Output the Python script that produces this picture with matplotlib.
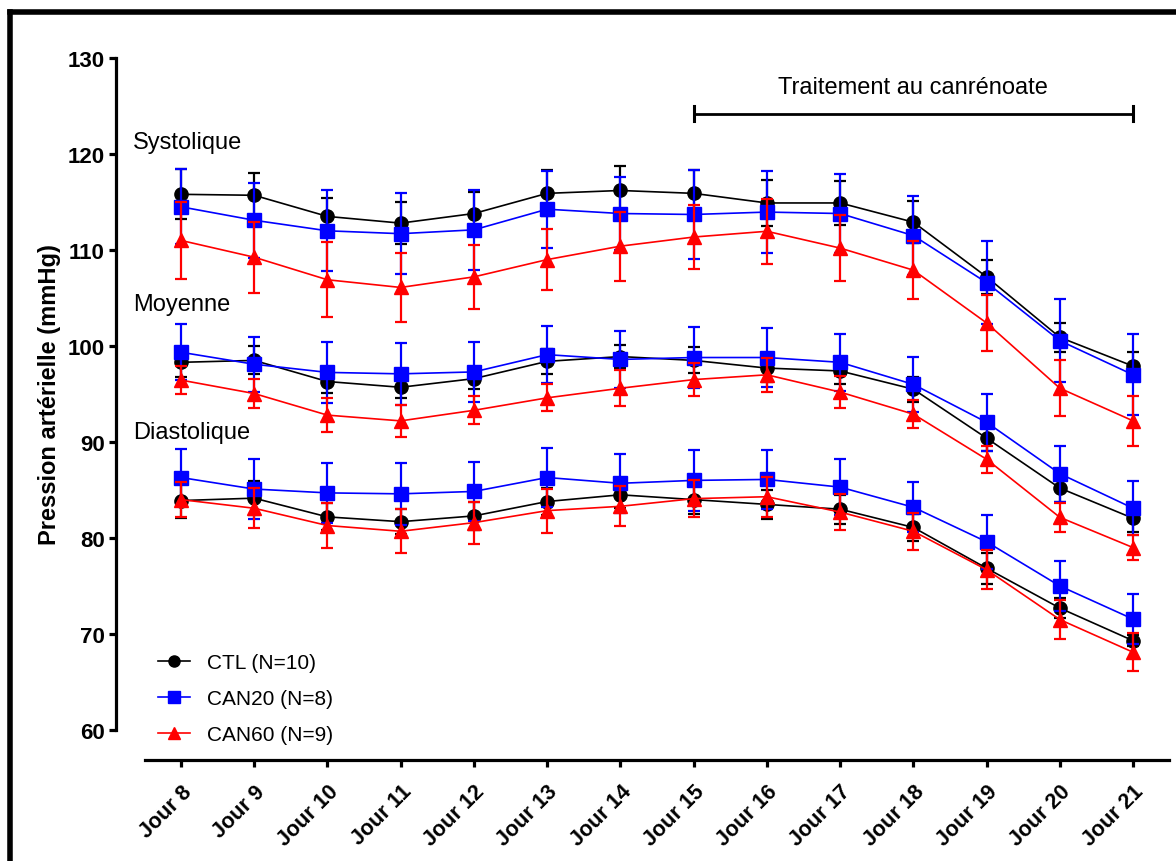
import matplotlib
matplotlib.use("Agg")
import matplotlib.pyplot as plt
from matplotlib.lines import Line2D
import numpy as np

plt.rcParams['font.family'] = ['Liberation Sans', 'DejaVu Sans']

days = ["Jour 8", "Jour 9", "Jour 10", "Jour 11", "Jour 12", "Jour 13", "Jour 14",
        "Jour 15", "Jour 16", "Jour 17", "Jour 18", "Jour 19", "Jour 20", "Jour 21"]

# Systolique
sys_ctl = [115.8, 115.7, 113.5, 112.8, 113.8, 115.9, 116.2, 115.9, 114.9, 114.9, 112.9, 107.2, 100.9, 97.9]
sys_ctl_sem = [2.6, 2.3, 1.9, 2.2, 2.25, 2.4, 2.5, 2.4, 2.35, 2.3, 2.2, 1.75, 1.5, 1.45]
sys_c20 = [114.5, 113.1, 112.0, 111.7, 112.1, 114.25, 113.8, 113.7, 113.95, 113.8, 111.5, 106.6, 100.55, 97.0]
sys_c20_sem = [3.9, 3.9, 4.2, 4.2, 4.2, 4.0, 3.8, 4.6, 4.3, 4.1, 4.15, 4.3, 4.3, 4.2]
sys_c60 = [111.0, 109.25, 106.9, 106.1, 107.2, 109.0, 110.4, 111.35, 111.95, 110.2, 107.9, 102.4, 95.6, 92.2]
sys_c60_sem = [4.0, 3.7, 3.9, 3.6, 3.3, 3.2, 3.6, 3.3, 3.4, 3.45, 3.0, 2.9, 2.9, 2.6]

# Moyenne
moy_ctl = [98.3, 98.5, 96.3, 95.7, 96.6, 98.4, 98.9, 98.5, 97.7, 97.4, 95.5, 90.4, 85.2, 82.05]
moy_ctl_sem = [1.5, 1.45, 1.2, 1.15, 1.1, 1.3, 1.2, 1.35, 1.5, 1.4, 1.3, 1.3, 1.4, 1.4]
moy_c20 = [99.35, 98.1, 97.25, 97.1, 97.3, 99.1, 98.6, 98.8, 98.8, 98.3, 96.0, 92.05, 86.7, 83.1]
moy_c20_sem = [2.9, 2.85, 3.2, 3.25, 3.1, 3.0, 3.0, 3.2, 3.1, 3.0, 2.85, 2.95, 2.9, 2.8]
moy_c60 = [96.45, 95.05, 92.8, 92.2, 93.3, 94.6, 95.6, 96.5, 97.0, 95.2, 92.9, 88.2, 82.15, 79.0]
moy_c60_sem = [1.45, 1.55, 1.8, 1.7, 1.45, 1.4, 1.85, 1.7, 1.75, 1.7, 1.45, 1.4, 1.5, 1.3]

# Diastolique
dia_ctl = [83.9, 84.15, 82.2, 81.7, 82.3, 83.8, 84.5, 84.0, 83.5, 83.0, 81.1, 76.85, 72.7, 69.3]
dia_ctl_sem = [1.8, 1.8, 1.4, 1.3, 1.5, 1.4, 1.4, 1.5, 1.5, 1.5, 1.45, 1.6, 1.0, 0.6]
dia_c20 = [86.3, 85.1, 84.7, 84.6, 84.85, 86.3, 85.7, 86.0, 86.1, 85.3, 83.2, 79.6, 75.0, 71.55]
dia_c20_sem = [2.95, 3.1, 3.1, 3.2, 3.1, 3.1, 3.1, 3.2, 3.1, 2.9, 2.6, 2.8, 2.65, 2.6]
dia_c60 = [84.0, 83.1, 81.3, 80.7, 81.6, 82.85, 83.3, 84.1, 84.3, 82.7, 80.7, 76.7, 71.5, 68.1]
dia_c60_sem = [1.85, 2.1, 2.3, 2.3, 2.2, 2.3, 2.1, 1.9, 2.1, 1.9, 1.9, 2.0, 2.05, 2.0]

groups = ["CTL (N=10)", "CAN20 (N=8)", "CAN60 (N=9)"]
colors = ["black", "#0000FF", "#FF0000"]
markers = ["o", "s", "^"]
msizes = [9.5, 9.5, 10.5]

series = [
    [(sys_ctl, sys_ctl_sem), (moy_ctl, moy_ctl_sem), (dia_ctl, dia_ctl_sem)],
    [(sys_c20, sys_c20_sem), (moy_c20, moy_c20_sem), (dia_c20, dia_c20_sem)],
    [(sys_c60, sys_c60_sem), (moy_c60, moy_c60_sem), (dia_c60, dia_c60_sem)],
]

W, H = 1176, 862
fig = plt.figure(figsize=(W / 100, H / 100), dpi=100)
ax = fig.add_axes([145 / W, 1 - 731 / H, 1024 / W, 672 / H])

# spines first (set_position resets ticks)
for s in ['top', 'right']:
    ax.spines[s].set_visible(False)
ax.spines['left'].set_position(('outward', 21))
ax.spines['bottom'].set_position(('outward', 21.5))
ax.spines['left'].set_linewidth(2.3)
ax.spines['bottom'].set_linewidth(2.3)

x = np.arange(len(days))
for gi in range(3):
    for vals, sem in series[gi]:
        ax.errorbar(x, vals, yerr=sem, color=colors[gi], marker=markers[gi],
                    markersize=msizes[gi], linewidth=1.2, elinewidth=1.6,
                    capsize=4.5, capthick=1.6, clip_on=False, zorder=3 + gi)

ax.set_xlim(-0.49, 13.49)
ax.set_ylim(60, 130)
ax.set_yticks(np.arange(60, 131, 10))
ax.set_xticks(x)
ax.tick_params(axis='y', direction='out', length=5, width=2.3, pad=3, labelsize=16)
ax.tick_params(axis='x', direction='out', length=5, width=2.3, pad=10, labelsize=15.5)
ax.set_xticklabels(days, rotation=45, ha='right', va='top', rotation_mode='anchor',
                   fontweight='bold')
ax.set_yticklabels([str(v) for v in range(60, 131, 10)], fontweight='bold')

fig.text(50 / W, 1 - 395 / H, "Pression artérielle (mmHg)", rotation=90,
         ha='center', va='center', fontsize=17, fontweight='bold')

# Section labels
ax.text(-0.655, 121.25, "Systolique", ha='left', va='center', fontsize=17)
ax.text(-0.655, 104.4, "Moyenne", ha='left', va='center', fontsize=17)
ax.text(-0.655, 91.0, "Diastolique", ha='left', va='center', fontsize=17)

# Treatment bracket
ax.plot([7, 13], [124.2, 124.2], color='black', linewidth=2.0, clip_on=False)
ax.plot([7, 7], [123.4, 125.0], color='black', linewidth=2.2, clip_on=False)
ax.plot([13, 13], [123.4, 125.0], color='black', linewidth=2.2, clip_on=False)
ax.text(10, 127.0, "Traitement au canrénoate", ha='center', va='center', fontsize=17)

# Legend
handles = [Line2D([0], [0], color=colors[i], marker=markers[i], markersize=msizes[i] - 1.5,
                  linewidth=1.2) for i in range(3)]
fig.legend(handles, groups, loc='upper left', bbox_to_anchor=(158 / W, 1 - 654 / H),
           bbox_transform=fig.transFigure, frameon=False, fontsize=15,
           handlelength=1.55, handletextpad=0.8, labelspacing=0.82,
           borderpad=0, borderaxespad=0)

# Outer frame (top and left)
fig.add_artist(Line2D([10 / W, 1.0], [1 - 13 / H, 1 - 13 / H], color='black',
                      linewidth=4, transform=fig.transFigure, solid_capstyle='projecting'))
fig.add_artist(Line2D([10 / W, 10 / W], [1 - 13 / H, 0.0], color='black',
                      linewidth=4, transform=fig.transFigure, solid_capstyle='projecting'))

fig.savefig("out.png", dpi=100)
